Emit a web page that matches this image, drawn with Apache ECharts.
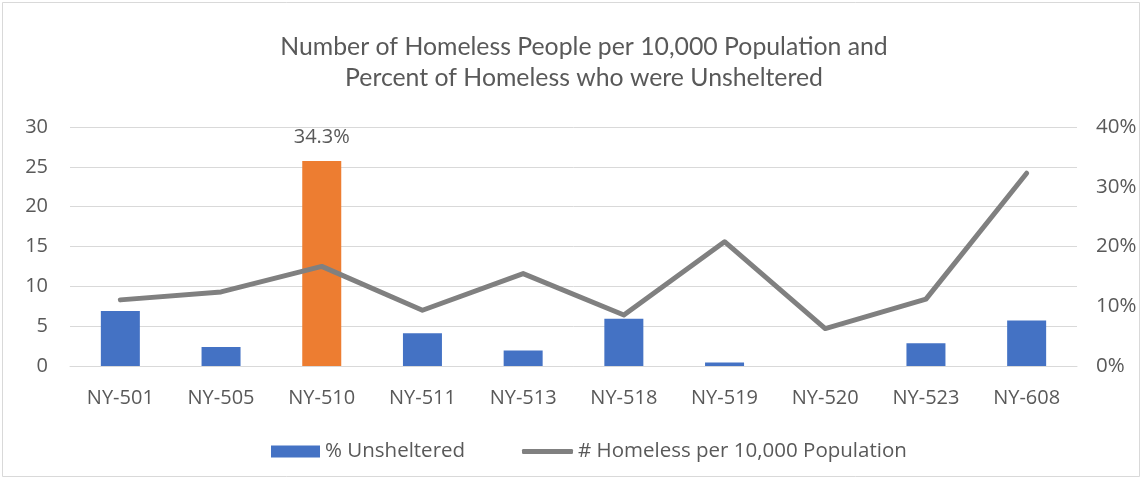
<!DOCTYPE html>
<html>
<head>
<meta charset="utf-8">
<script src="https://cdn.jsdelivr.net/npm/echarts@6/dist/echarts.min.js"></script>
<style>
  html, body { margin: 0; padding: 0; background: #fff; }
  #chart { width: 1143px; height: 480px; }
</style>
</head>
<body>
<div id="chart"></div>
<script>
// Continuums of Care
const categories = ['NY-501', 'NY-505', 'NY-510', 'NY-511', 'NY-513', 'NY-518', 'NY-519', 'NY-520', 'NY-523', 'NY-608'];
// Percent of homeless who were unsheltered (right axis)
const pctUnsheltered = [9.2, 3.2, 34.3, 5.5, 2.6, 7.9, 0.6, 0, 3.8, 7.6];
// Homeless people per 10,000 population (left axis)
const homelessPer10k = [8.3, 9.3, 12.5, 7.0, 11.6, 6.4, 15.6, 4.7, 8.4, 24.2];
// Location highlighted in orange and labelled
const highlightIndex = 2;

const TITLE_FONT = 'Lato, sans-serif';
const FONT = '"Open Sans", sans-serif';
const TEXT = '#595959';

const chart = echarts.init(document.getElementById('chart'), null, { renderer: 'canvas' });

const legendText = { fontFamily: FONT, fontSize: 20.5, color: TEXT, padding: [0, 0, 0, 0] };

chart.setOption({
  backgroundColor: '#fff',
  animation: false,
  textStyle: { fontFamily: FONT },
  title: {
    text: 'Number of Homeless People per 10,000 Population and\nPercent of Homeless who were Unsheltered',
    left: 579,
    textAlign: 'center',
    top: 27,
    textStyle: { fontFamily: TITLE_FONT, fontSize: 24.8, fontWeight: 'normal', color: TEXT, lineHeight: 31 }
  },
  legend: [
    {
      left: 266, top: 436,
      itemWidth: 49, itemHeight: 12,
      textStyle: legendText,
      data: [{ name: '% Unsheltered', icon: 'rect' }]
    },
    {
      left: 517, top: 436,
      itemWidth: 51, itemHeight: 5,
      textStyle: legendText,
      data: [{ name: '# Homeless per 10,000 Population', icon: 'roundRect' }]
    }
  ],
  graphic: [{
    type: 'rect',
    shape: { x: 2.5, y: 2.5, width: 1137, height: 474 },
    style: { fill: 'none', stroke: '#d9d9d9', lineWidth: 1 }
  }],
  grid: { left: 70, right: 66, top: 127, bottom: 114, containLabel: false },
  xAxis: {
    type: 'category',
    data: categories,
    axisLine: { show: true, lineStyle: { color: '#d9d9d9' } },
    axisTick: { show: false },
    axisLabel: { color: TEXT, fontSize: 20, fontFamily: FONT, margin: 22 }
  },
  yAxis: [
    {
      type: 'value',
      min: 0, max: 30, interval: 5,
      axisLine: { show: false },
      axisTick: { show: false },
      axisLabel: { color: TEXT, fontSize: 20, fontFamily: FONT, margin: 22 },
      splitLine: { lineStyle: { color: '#d9d9d9' } }
    },
    {
      type: 'value',
      min: 0, max: 40, interval: 10,
      position: 'right',
      axisLine: { show: false },
      axisTick: { show: false },
      axisLabel: { color: TEXT, fontSize: 20.5, fontFamily: FONT, margin: 19, formatter: '{value}%' },
      splitLine: { show: false }
    }
  ],
  series: [
    {
      name: '% Unsheltered',
      type: 'bar',
      yAxisIndex: 1,
      barWidth: 39,
      itemStyle: { color: '#4472C4' },
      data: pctUnsheltered.map((v, i) => i === highlightIndex ? {
        value: v,
        itemStyle: { color: '#ED7D31' },
        label: {
          show: true, position: 'top', distance: 14,
          formatter: (p) => p.value.toFixed(1) + '%',
          color: TEXT, fontSize: 20, fontFamily: FONT
        }
      } : v)
    },
    {
      name: '# Homeless per 10,000 Population',
      type: 'line',
      yAxisIndex: 0,
      symbol: 'none',
      lineStyle: { color: '#808080', width: 5, cap: 'round', join: 'round' },
      itemStyle: { color: '#808080' },
      data: homelessPer10k
    }
  ]
});
</script>
</body>
</html>
